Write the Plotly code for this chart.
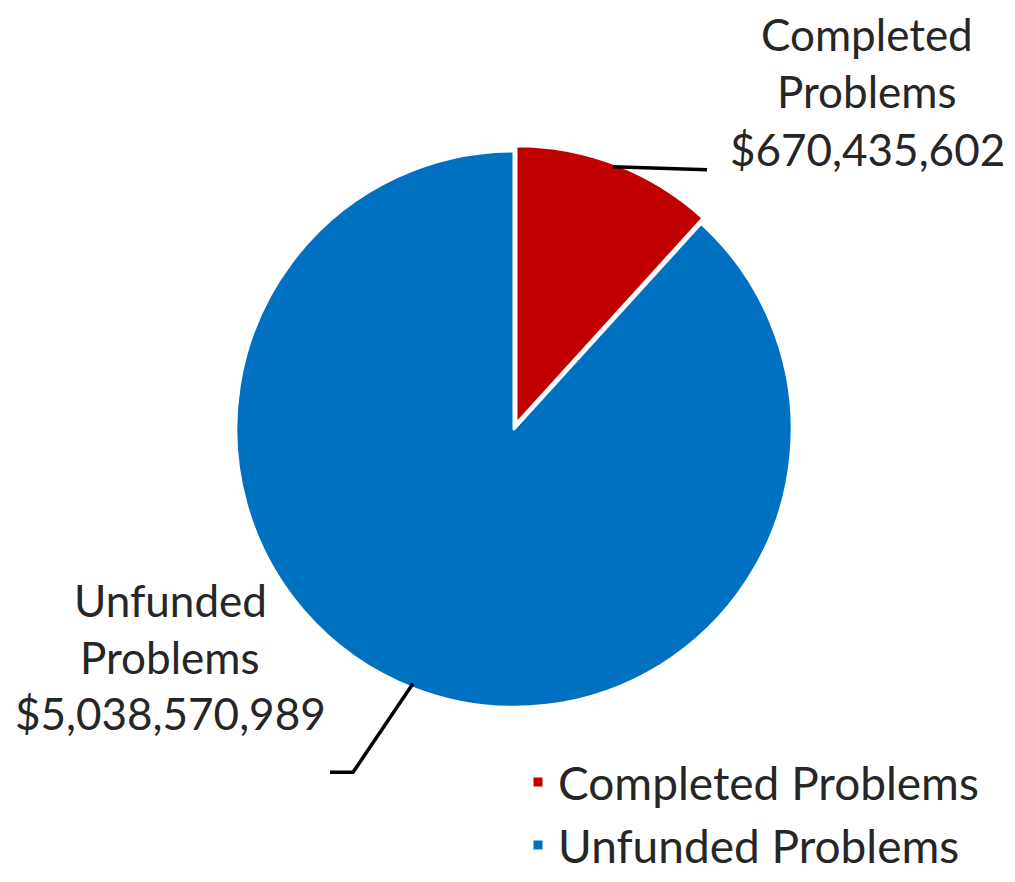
import plotly.graph_objects as go

categories = ["Completed Problems", "Unfunded Problems"]
values = [670435602, 5038570989]
colors = ["#C00000", "#0070C0"]

W, H = 1015, 882
FONT = "Lato"
FS = 44
TXT = "#262626"

# pie geometry (pixels)
cx, cy, r = 514, 435, 282
pulls = [0.02, 0]
R = r * (1 + max(pulls))

fig = go.Figure()
fig.add_trace(go.Pie(
    labels=categories,
    values=values,
    sort=False,
    direction="clockwise",
    rotation=0,
    pull=pulls,
    marker=dict(colors=colors, line=dict(color="white", width=3)),
    textinfo="none",
    hoverinfo="label+value",
    domain=dict(x=[(cx - R) / W, (cx + R) / W], y=[1 - (cy + R) / H, 1 - (cy - R) / H]),
))

def fmt(v):
    return "${:,.0f}".format(v)

label_pos = [(867, [34, 92, 151]), (170, [608, 666, 723])]
for cat, val, (lx, ys) in zip(categories, values, label_pos):
    words = cat.split(" ")
    lines = [words[0], " ".join(words[1:]), fmt(val)]
    for line, y in zip(lines, ys):
        fig.add_annotation(
            x=lx / W, y=1 - y / H, xref="paper", yref="paper",
            text=line, showarrow=False, xanchor="center", yanchor="middle",
            font=dict(family=FONT, size=FS, color=TXT),
        )

# leader lines
fig.add_shape(type="line", xref="paper", yref="paper",
              x0=613 / W, y0=1 - 169 / H, x1=707 / W, y1=1 - 172 / H,
              line=dict(color="black", width=3.5))
fig.add_shape(type="path", xref="paper", yref="paper",
              path=f"M {413/W} {1-693/H} L {353/W} {1-783/H} L {330/W} {1-783/H}",
              line=dict(color="black", width=3.5))

fig.update_layout(
    width=W, height=H,
    margin=dict(l=0, r=0, t=0, b=0),
    paper_bgcolor="white", plot_bgcolor="white",
    showlegend=True,
    legend=dict(x=518 / W, y=1 - 756 / H, xanchor="left", yanchor="top",
                font=dict(family=FONT, size=46, color=TXT),
                bgcolor="rgba(0,0,0,0)"),
)

fig.write_html("out.html", config={"displayModeBar": False},
               post_script="document.body.style.margin='0';")
